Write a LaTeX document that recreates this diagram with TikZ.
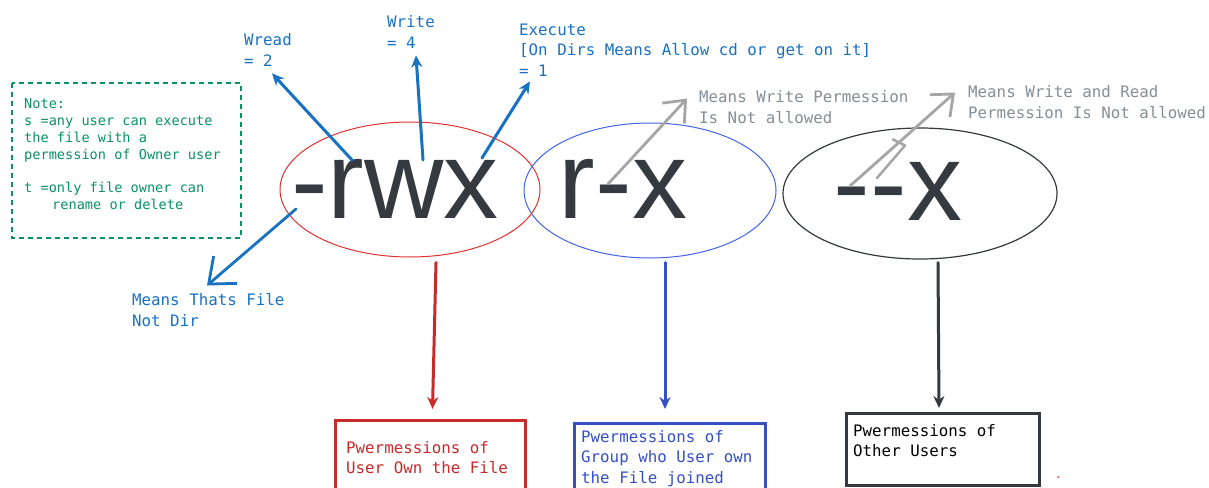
\documentclass[tikz,border=0pt]{standalone}
\usepackage{fontspec}
\setmonofont{DejaVu Sans Mono}
\newfontfamily\bigfont{Liberation Sans}
\usetikzlibrary{arrows.meta,shapes.geometric,calc}
\definecolor{cblue}{HTML}{1971C2}
\definecolor{cred}{HTML}{C92A2A}
\definecolor{cellred}{HTML}{E03131}
\definecolor{cindigo}{HTML}{364FC7}
\definecolor{cellblue}{HTML}{4263EB}
\definecolor{cdark}{HTML}{343A40}
\definecolor{cgreen}{HTML}{099268}
\definecolor{cgrayline}{HTML}{A5A5A5}
\definecolor{cgraytext}{HTML}{868E96}
\tikzset{
  lbl/.style={font=\ttfamily\fontsize{15.8}{20.5}\selectfont, align=left, anchor=north west, inner sep=0pt},
  notetxt/.style={font=\ttfamily\fontsize{13.6}{16.8}\selectfont, align=left, anchor=north west, inner sep=0pt, text=cgreen},
  bigtxt/.style={font=\bigfont\fontsize{110}{110}\selectfont, text=cdark, inner sep=0pt, anchor=base},
  oval/.style={ellipse, draw, line width=1pt, inner sep=0pt},
  upar/.style={cblue, line width=3pt, line cap=round, -{Stealth[length=12pt,width=11pt]}},
  barbar/.style={line width=2.8pt, line cap=round, line join=round, -{Straight Barb[length=18pt,width=30pt]}},
  downar/.style={line width=3pt, line cap=round, -{Stealth[length=12pt,width=11pt]}},
  pbox/.style={draw, line width=3pt, inner sep=0pt, anchor=north west},
}
\begin{document}
\begin{tikzpicture}[x=1pt,y=-1pt]
\useasboundingbox[fill=white] (0,0) rectangle (1209,487);

% ellipses
\node[oval, draw=cellred, minimum width=260pt, minimum height=135pt] (e1) at (410,189.5) {};
\node[oval, draw=cellblue, minimum width=252pt, minimum height=135pt] (e2) at (650,190.5) {};
\node[oval, draw=cdark, line width=1.2pt, minimum width=274pt, minimum height=131pt] (e3) at (920,193.5) {};

% big permission strings
\node[bigtxt] (t1) at (395,218) {-rwx};
\node[bigtxt] (t2) at (623,218) {r-x};
\node[bigtxt] (t3) at (898,220) {--x};

% note box
\draw[cgreen, line width=1.3pt, dash pattern=on 5pt off 4pt] (12,83) rectangle (241,238);
\node[notetxt] (note) at (24,98.5) {Note:\\s =any user can execute\\the file with a\\permession of Owner user\\\mbox{}\\t =only file owner can\\\hspace*{28pt}rename or delete};

% blue labels
\node[lbl, text=cblue] (wread) at (244,33.5) {Wread\\= 2};
\node[lbl, text=cblue] (write) at (387,15.5) {Write\\= 4};
\node[lbl, text=cblue] (exec) at (519,23.5) {Execute\\{[On} Dirs Means Allow cd or get on it]\\= 1};
\node[lbl, text=cblue] (filelbl) at (132,293.5) {Means Thats File\\Not Dir};

% gray labels
\node[lbl, text=cgraytext] (gw) at (699,90.5) {Means Write Permession\\Is Not allowed};
\node[lbl, text=cgraytext] (gwr) at (968,85.5) {Means Write and Read\\Permession Is Not allowed};

% start points on the letters
\coordinate (cr) at (352,160);
\coordinate (cw) at (423,160);
\coordinate (cx) at (482,158);
\coordinate (cd) at (296,209);
\coordinate (gd1) at (608,184);
\coordinate (gd2) at (850,186);
\coordinate (gd3) at (877,178);

% blue arrows
\draw[upar] (cr) -- ($(wread.south west)+(28,7)$);
\draw[upar] (cw) -- ($(write.south west)+(29,7)$);
\draw[upar] (cx) -- ($(exec.south west)+(11,5)$);
\draw[barbar, cblue, -{Straight Barb[length=22pt,width=36pt]}] (cd) -- ($(filelbl.north west)+(75,-8)$);

% gray arrows
\draw[barbar, cgrayline] (gd1) -- ($(gw.north west)+(-12,8)$);
\draw[barbar, cgrayline] (gd2) -- ($(gwr.north west)+(-13,7)$);
\draw[cgrayline, line width=2.5pt, line cap=round, line join=round] (gd3) -- ($(gwr.north west)+(-63,60)$) -- ($(gwr.north west)+(-75,54)$);

% boxes
\node[pbox, draw=cred, minimum width=190pt, minimum height=80pt] (b1) at (334,419) {};
\node[pbox, draw=cindigo, minimum width=191pt, minimum height=80pt] (b2) at (573,422) {};
\node[pbox, draw=cdark, minimum width=193pt, minimum height=72pt] (b3) at (845,412) {};

\node[lbl, text=cred] (b1t) at ($(b1.north west)+(12,22)$) {Pwermessions of\\User Own the File};
\node[lbl, text=cindigo] (b2t) at ($(b2.north west)+(8,8)$) {Pwermessions of\\Group who User own\\the File joined};
\node[lbl, text=black] (b3t) at ($(b3.north west)+(8,12)$) {Pwermessions of\\Other Users};

% down arrows
\draw[downar, cred] ($(e1.south)+(26,5)$) -- ($(b1.north)+(2,-10)$);
\draw[downar, cindigo] ($(e2.south)+(15,4)$) -- ($(b2.north)+(-5,-13)$);
\draw[downar, cdark] ($(e3.south)+(18,3)$) -- ($(b3.north)+(-4,-4)$);

% small red dot
\fill[cellred] (1058,477) circle (1pt);
\end{tikzpicture}
\end{document}
